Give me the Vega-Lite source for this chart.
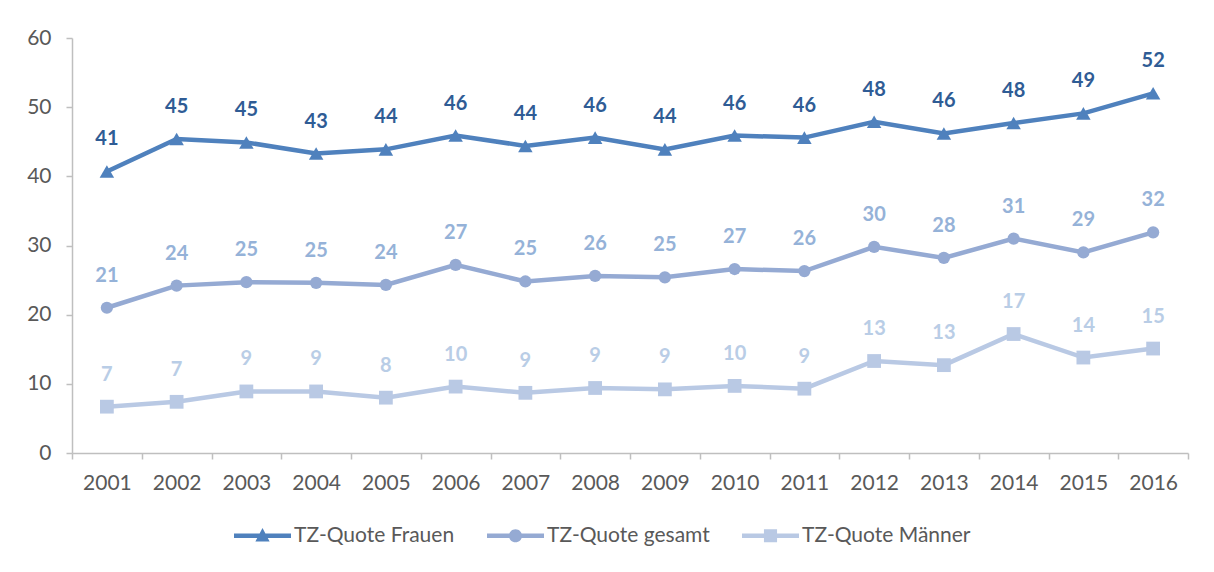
{
  "$schema": "https://vega.github.io/schema/vega-lite/v6.json",
  "width": 1116,
  "height": 415,
  "autosize": {"type": "none"},
  "padding": {"left": 72, "top": 38, "right": 26, "bottom": 119},
  "background": "white",
  "config": {
    "view": {"stroke": null},
    "font": "Lato",
    "axis": {"labelFont": "Lato", "labelFontSize": 21, "labelColor": "#595959", "domainColor": "#BFBFBF", "tickColor": "#BFBFBF", "domainWidth": 1.5, "tickWidth": 1.5, "grid": false, "title": null}
  },
  "data": {"values": [
    {"year": "2001", "series": "TZ-Quote Frauen", "value": 40.7},
    {"year": "2002", "series": "TZ-Quote Frauen", "value": 45.4},
    {"year": "2003", "series": "TZ-Quote Frauen", "value": 44.9},
    {"year": "2004", "series": "TZ-Quote Frauen", "value": 43.3},
    {"year": "2005", "series": "TZ-Quote Frauen", "value": 43.9},
    {"year": "2006", "series": "TZ-Quote Frauen", "value": 45.9},
    {"year": "2007", "series": "TZ-Quote Frauen", "value": 44.4},
    {"year": "2008", "series": "TZ-Quote Frauen", "value": 45.6},
    {"year": "2009", "series": "TZ-Quote Frauen", "value": 43.9},
    {"year": "2010", "series": "TZ-Quote Frauen", "value": 45.9},
    {"year": "2011", "series": "TZ-Quote Frauen", "value": 45.6},
    {"year": "2012", "series": "TZ-Quote Frauen", "value": 47.9},
    {"year": "2013", "series": "TZ-Quote Frauen", "value": 46.2},
    {"year": "2014", "series": "TZ-Quote Frauen", "value": 47.7},
    {"year": "2015", "series": "TZ-Quote Frauen", "value": 49.1},
    {"year": "2016", "series": "TZ-Quote Frauen", "value": 52.0},
    {"year": "2001", "series": "TZ-Quote gesamt", "value": 21.0},
    {"year": "2002", "series": "TZ-Quote gesamt", "value": 24.2},
    {"year": "2003", "series": "TZ-Quote gesamt", "value": 24.7},
    {"year": "2004", "series": "TZ-Quote gesamt", "value": 24.6},
    {"year": "2005", "series": "TZ-Quote gesamt", "value": 24.3},
    {"year": "2006", "series": "TZ-Quote gesamt", "value": 27.2},
    {"year": "2007", "series": "TZ-Quote gesamt", "value": 24.8},
    {"year": "2008", "series": "TZ-Quote gesamt", "value": 25.6},
    {"year": "2009", "series": "TZ-Quote gesamt", "value": 25.4},
    {"year": "2010", "series": "TZ-Quote gesamt", "value": 26.6},
    {"year": "2011", "series": "TZ-Quote gesamt", "value": 26.3},
    {"year": "2012", "series": "TZ-Quote gesamt", "value": 29.8},
    {"year": "2013", "series": "TZ-Quote gesamt", "value": 28.2},
    {"year": "2014", "series": "TZ-Quote gesamt", "value": 31.0},
    {"year": "2015", "series": "TZ-Quote gesamt", "value": 29.0},
    {"year": "2016", "series": "TZ-Quote gesamt", "value": 31.9},
    {"year": "2001", "series": "TZ-Quote Männer", "value": 6.7},
    {"year": "2002", "series": "TZ-Quote Männer", "value": 7.4},
    {"year": "2003", "series": "TZ-Quote Männer", "value": 8.9},
    {"year": "2004", "series": "TZ-Quote Männer", "value": 8.9},
    {"year": "2005", "series": "TZ-Quote Männer", "value": 8.0},
    {"year": "2006", "series": "TZ-Quote Männer", "value": 9.6},
    {"year": "2007", "series": "TZ-Quote Männer", "value": 8.7},
    {"year": "2008", "series": "TZ-Quote Männer", "value": 9.4},
    {"year": "2009", "series": "TZ-Quote Männer", "value": 9.2},
    {"year": "2010", "series": "TZ-Quote Männer", "value": 9.7},
    {"year": "2011", "series": "TZ-Quote Männer", "value": 9.3},
    {"year": "2012", "series": "TZ-Quote Männer", "value": 13.3},
    {"year": "2013", "series": "TZ-Quote Männer", "value": 12.7},
    {"year": "2014", "series": "TZ-Quote Männer", "value": 17.2},
    {"year": "2015", "series": "TZ-Quote Männer", "value": 13.8},
    {"year": "2016", "series": "TZ-Quote Männer", "value": 15.1}
  ]},
  "encoding": {
    "x": {"field": "year", "type": "ordinal", "scale": {"type": "band", "paddingInner": 0, "paddingOuter": 0},
      "axis": {"labelAngle": 0, "tickBand": "extent", "tickSize": 6, "labelPadding": 13}},
    "y": {"field": "value", "type": "quantitative", "scale": {"domain": [0, 60], "nice": false},
      "axis": {"values": [0, 10, 20, 30, 40, 50, 60], "tickSize": 6, "labelPadding": 15}}
  },
  "layer": [
    {
      "mark": {"type": "line", "strokeWidth": 4.5},
      "encoding": {
        "color": {"field": "series", "type": "nominal",
          "scale": {"domain": ["TZ-Quote Frauen", "TZ-Quote gesamt", "TZ-Quote Männer"], "range": ["#4F81BD", "#95AAD3", "#B9C9E4"]},
          "legend": {"orient": "none", "legendX": 162, "legendY": 469, "direction": "horizontal", "columns": 3, "title": null,
            "padding": 0, "labelFont": "Lato", "labelFontSize": 21, "labelColor": "#595959", "labelOffset": 3, "columnPadding": 32, "labelLimit": 400,
            "symbolSize": 3249, "symbolStrokeWidth": 0, "symbolFillColor": "#4F81BD",
            "encode": {"symbols": {"update": {
              "shape": {"signal": "datum.value === 'TZ-Quote Frauen' ? 'M-1,-0.08H1V0.08H-1Z M-0.25,0.2L0,-0.27L0.25,0.2Z' : datum.value === 'TZ-Quote gesamt' ? 'M-1,-0.08H1V0.08H-1Z M-0.23,0A0.23,0.23 0 1,1 0.23,0A0.23,0.23 0 1,1 -0.23,0Z' : 'M-1,-0.08H1V0.08H-1Z M-0.23,-0.23H0.23V0.23H-0.23Z'"},
              "fill": {"signal": "datum.value === 'TZ-Quote Frauen' ? '#4F81BD' : datum.value === 'TZ-Quote gesamt' ? '#95AAD3' : '#B9C9E4'"},
              "fillOpacity": {"value": 1},
              "strokeWidth": {"value": 0},
              "size": {"value": 3249}
            }}}
          }}
      }
    },
    {
      "transform": [{"filter": "datum.series === 'TZ-Quote Frauen'"}],
      "mark": {"type": "point", "filled": true, "opacity": 1, "shape": "triangle-up", "size": 210},
      "encoding": {"color": {"field": "series", "type": "nominal"}}
    },
    {
      "transform": [{"filter": "datum.series === 'TZ-Quote gesamt'"}],
      "mark": {"type": "point", "filled": true, "opacity": 1, "shape": "circle", "size": 150},
      "encoding": {"color": {"field": "series", "type": "nominal"}}
    },
    {
      "transform": [{"filter": "datum.series === 'TZ-Quote Männer'"}],
      "mark": {"type": "point", "filled": true, "opacity": 1, "shape": "square", "size": 190},
      "encoding": {"color": {"field": "series", "type": "nominal"}}
    },
    {
      "mark": {"type": "text", "dy": -32, "fontSize": 20, "fontWeight": "bold", "font": "Lato"},
      "encoding": {
        "text": {"field": "value", "type": "quantitative", "format": ".0f"},
        "fill": {"field": "series", "type": "nominal",
          "scale": {"domain": ["TZ-Quote Frauen", "TZ-Quote gesamt", "TZ-Quote Männer"], "range": ["#2F5C95", "#95B2D8", "#B9CDE6"]},
          "legend": null}
      }
    }
  ],
  "resolve": {"scale": {"fill": "independent"}}
}
